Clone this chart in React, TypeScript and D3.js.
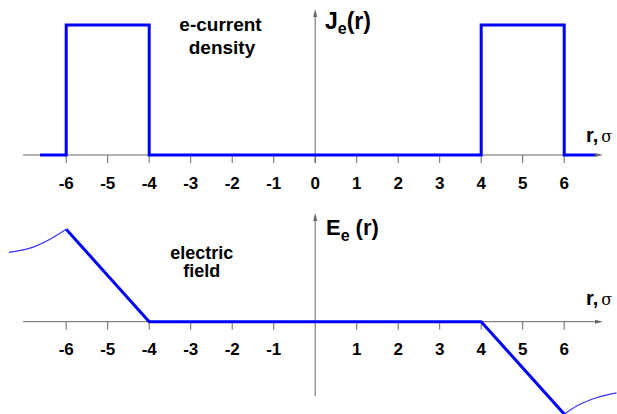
import React from "react";
import * as d3 from "d3";

// ---- data ----
const rTicksTop = [-6, -5, -4, -3, -2, -1, 0, 1, 2, 3, 4, 5, 6];
const rTicksBottom = [-6, -5, -4, -3, -2, -1, 1, 2, 3, 4, 5, 6];

// current density (step profile)
const jR = [-6.63, -6, -6, -4, -4, 4, 4, 6, 6, 6.74];
const jV = [0, 0, 1, 1, 0, 0, 1, 1, 0, 0];

// electric field inside the shells
const eR = [-6, -4, 4, 6];
const eV = [1, 0, 0, -1];

// electric field outside (thin curves)
const outLeftR = [-7.38, -6.78, -6.39, -6];
const outLeftV = [0.75, 0.81, 0.892, 1];
const outRightR = [6, 6.3, 6.62, 7.26];
const outRightV = [-1, -0.912, -0.847, -0.77];

const W = 617;
const H = 414;
const FONT = "'Liberation Sans', Arial, Helvetica, sans-serif";
const SERIF = "'DejaVu Serif', 'Liberation Serif', serif";

export default function App() {
  const x = d3.scaleLinear().domain([-6, 6]).range([66.2, 564.2]);
  const yJ = d3.scaleLinear().domain([0, 1]).range([155, 25]);
  const yE = d3.scaleLinear().domain([-1, 1]).range([414.1, 229.3]);

  const stepLine = d3
    .line<number>()
    .x((_, i) => x(jR[i]))
    .y((v) => yJ(v));
  const fieldLine = d3
    .line<number>()
    .x((_, i) => x(eR[i]))
    .y((v) => yE(v));
  const curve = (rs: number[]) =>
    d3
      .line<number>()
      .x((_, i) => x(rs[i]))
      .y((v) => yE(v))
      .curve(d3.curveMonotoneX);

  const axisColor = "#666";
  const x0 = x(0);
  const axL = 23;
  const axR = 603;

  const renderAxis = (yAxis: number, yTop: number, yBot: number, ticks: number[], labelY: number) => (
    <g>
      <line x1={axL} x2={axR - 6} y1={yAxis} y2={yAxis} stroke={axisColor} strokeWidth={1} />
      <path d={`M${axR},${yAxis} L${axR - 8},${yAxis - 2} L${axR - 8},${yAxis + 2} Z`} fill={axisColor} />
      <line x1={x0} x2={x0} y1={yTop + 6} y2={yBot} stroke={axisColor} strokeWidth={1} />
      <path d={`M${x0},${yTop} L${x0 - 2},${yTop + 8} L${x0 + 2},${yTop + 8} Z`} fill={axisColor} />
      {ticks.map((t) => (
        <g key={t}>
          <line x1={x(t)} x2={x(t)} y1={yAxis} y2={yAxis + 8} stroke={axisColor} strokeWidth={1} />
          <text
            x={x(t)}
            y={labelY}
            textAnchor="middle"
            fontFamily={FONT}
            fontWeight="bold"
            fontSize={17}
            fill="#000"
          >
            {t}
          </text>
        </g>
      ))}
    </g>
  );

  return (
    <div style={{ position: "absolute", left: 0, top: 0 }}>
      <svg width={W} height={H} style={{ display: "block", background: "#fff" }}>
        {/* top panel */}
        {renderAxis(155, 9, 163, rTicksTop, 189)}
        <path d={stepLine(jV) || ""} fill="none" stroke="#0000ff" strokeWidth={3} strokeLinejoin="miter" />
        <text x={220.5} y={31} textAnchor="middle" fontFamily={FONT} fontWeight="bold" fontSize={19}>
          e-current
        </text>
        <text x={222} y={54} textAnchor="middle" fontFamily={FONT} fontWeight="bold" fontSize={19}>
          density
        </text>
        <text x={325} y={29} fontFamily={FONT} fontWeight="bold" fontSize={23}>
          J
          <tspan fontSize={16} dy={5}>e</tspan>
          <tspan fontSize={23} dy={-5}>(r)</tspan>
        </text>
        <text x={586} y={142} fontFamily={FONT} fontWeight="bold" fontSize={20}>
          r,
          <tspan fontFamily={SERIF} fontWeight="normal" fontSize={16} dx={3}>
            σ
          </tspan>
        </text>

        {/* bottom panel */}
        {renderAxis(321.7, 213, 396, rTicksBottom, 355)}
        <path d={fieldLine(eV) || ""} fill="none" stroke="#0000ff" strokeWidth={3} />
        <path d={curve(outLeftR)(outLeftV) || ""} fill="none" stroke="#3333ff" strokeWidth={1.2} />
        <path d={curve(outRightR)(outRightV) || ""} fill="none" stroke="#3333ff" strokeWidth={1.2} />
        <text x={201.7} y={258.5} textAnchor="middle" fontFamily={FONT} fontWeight="bold" fontSize={18}>
          electric
        </text>
        <text x={201.7} y={277} textAnchor="middle" fontFamily={FONT} fontWeight="bold" fontSize={18}>
          field
        </text>
        <text x={326} y={235} fontFamily={FONT} fontWeight="bold" fontSize={22}>
          E
          <tspan fontSize={16} dy={6}>e</tspan>
          <tspan fontSize={22} dy={-6} dx={6}>(r)</tspan>
        </text>
        <text x={586} y={305} fontFamily={FONT} fontWeight="bold" fontSize={20}>
          r,
          <tspan fontFamily={SERIF} fontWeight="normal" fontSize={16} dx={3}>
            σ
          </tspan>
        </text>
      </svg>
    </div>
  );
}
